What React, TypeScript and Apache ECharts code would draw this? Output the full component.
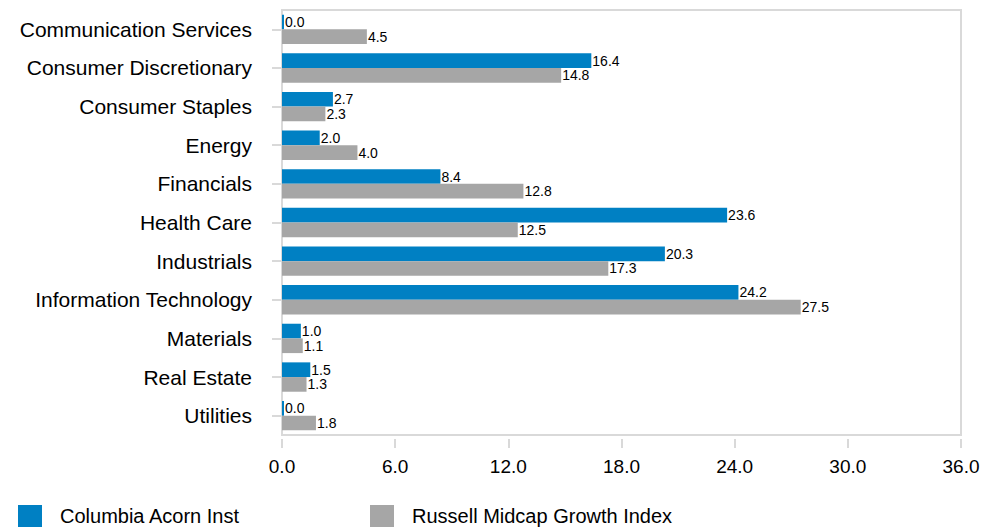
import React, { useEffect, useRef } from "react";
import * as echarts from "echarts";

const categories = [
  "Communication Services",
  "Consumer Discretionary",
  "Consumer Staples",
  "Energy",
  "Financials",
  "Health Care",
  "Industrials",
  "Information Technology",
  "Materials",
  "Real Estate",
  "Utilities",
];
const fundName = "Columbia Acorn Inst";
const indexName = "Russell Midcap Growth Index";
const fundValues = [0.0, 16.4, 2.7, 2.0, 8.4, 23.6, 20.3, 24.2, 1.0, 1.5, 0.0];
const indexValues = [4.5, 14.8, 2.3, 4.0, 12.8, 12.5, 17.3, 27.5, 1.1, 1.3, 1.8];
const xTicks = { min: 0, max: 36, interval: 6 };

const FONT = "'Liberation Sans', Arial, sans-serif";
const BLUE = "#0080C3";
const GRAY = "#A6A6A6";
const LINE = "#D9D9D9";

export default function App() {
  const ref = useRef<HTMLDivElement>(null);
  useEffect(() => {
    if (!ref.current) return;
    const chart = echarts.init(ref.current, undefined, { renderer: "svg" });
    const labelCfg = {
      show: true,
      position: "right",
      distance: 1,
      color: "#000",
      fontSize: 14,
      fontFamily: FONT,
      formatter: (p: any) => Number(p.value).toFixed(1),
    };
    const legendBase = {
      top: 505,
      itemWidth: 24,
      itemHeight: 22,
      icon: "rect",
      padding: 0,
      textStyle: { fontSize: 20, color: "#000", fontFamily: FONT, padding: [0, 0, 0, 13], lineHeight: 22 },
    };
    chart.setOption({
      animation: false,
      textStyle: { fontFamily: FONT },
      grid: {
        left: 282,
        right: 25,
        top: 10,
        bottom: 94,
        show: true,
        borderColor: LINE,
        borderWidth: 2,
        backgroundColor: "#fff",
      },
      legend: [
        { ...legendBase, data: [fundName], left: 18 },
        { ...legendBase, data: [indexName], left: 370 },
      ],
      xAxis: {
        type: "value",
        min: xTicks.min,
        max: xTicks.max,
        interval: xTicks.interval,
        offset: 4,
        axisLine: { show: false },
        axisTick: { show: true, length: 9, lineStyle: { color: LINE, width: 2 } },
        splitLine: { show: false },
        axisLabel: {
          color: "#000",
          fontSize: 19,
          fontFamily: FONT,
          margin: 18,
          formatter: (v: number) => v.toFixed(1),
        },
      },
      yAxis: {
        type: "category",
        data: categories,
        inverse: true,
        offset: 2,
        axisLine: { show: false },
        axisTick: { show: true, alignWithLabel: true, length: 10, lineStyle: { color: LINE, width: 2 } },
        axisLabel: { color: "#000", fontSize: 21, fontFamily: FONT, margin: 28 },
        splitLine: { show: false },
      },
      series: [
        {
          name: fundName,
          type: "bar",
          data: fundValues,
          itemStyle: { color: BLUE },
          barGap: "0%",
          barCategoryGap: "24%",
          barMinHeight: 2,
          label: labelCfg,
        },
        {
          name: indexName,
          type: "bar",
          data: indexValues,
          itemStyle: { color: GRAY },
          barGap: "0%",
          barCategoryGap: "24%",
          label: labelCfg,
        },
      ],
    });
    return () => chart.dispose();
  }, []);
  return (
    <div
      ref={ref}
      style={{ position: "fixed", left: 0, top: 0, width: 986, height: 529, background: "#fff" }}
    />
  );
}
